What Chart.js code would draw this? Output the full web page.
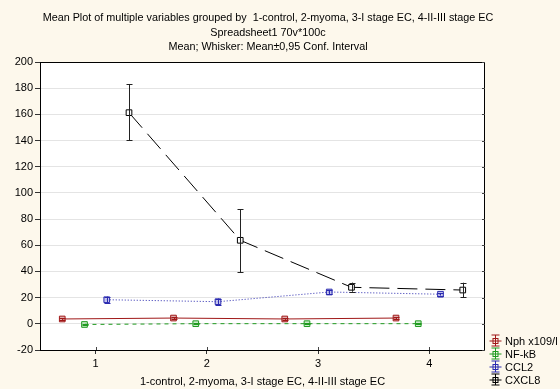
<!DOCTYPE html>
<html>
<head>
<meta charset="utf-8">
<script src="https://cdn.jsdelivr.net/npm/chart.js"></script>
<style>
  html, body { margin: 0; padding: 0; background: #fdf8ec; }
  #wrap { width: 560px; height: 389px; }
</style>
</head>
<body>
<div id="wrap"><canvas id="myChart" width="560" height="389"></canvas></div>
<script>
// Groups on the x axis
const groups = [1, 2, 3, 4];
const seriesNames = ['Nph x109/l', 'NF-kB', 'CCL2', 'CXCL8'];

// Means and 0.95 confidence limits
const nphMean  = [3.7, 4.4, 3.7, 4.4];
const nphLow   = [3.0, 3.7, 3.0, 3.7];
const nphHigh  = [4.4, 5.1, 4.4, 5.1];

const nfkbMean = [-0.5, 0.1, 0.1, 0.1];
const nfkbLow  = [-1.0, -0.4, -0.4, -0.4];
const nfkbHigh = [0.0, 0.6, 0.6, 0.6];

const ccl2Mean = [18.4, 16.9, 24.3, 22.6];
const ccl2Low  = [16.0, 14.5, 22.8, 21.6];
const ccl2High = [20.8, 19.3, 25.8, 23.6];

const cxcl8Mean = [161.3, 63.8, 27.9, 25.8];
const cxcl8Low  = [140.2, 39.4, 24.5, 20.3];
const cxcl8High = [183.2, 87.5, 31.5, 31.4];

const yTicks = [-20, 0, 20, 40, 60, 80, 100, 120, 140, 160, 180, 200];

const titleLines = [
  'Mean Plot of multiple variables grouped by  1-control, 2-myoma, 3-I stage EC, 4-II-III stage EC',
  'Spreadsheet1 70v*100c',
  'Mean; Whisker: Mean\u00b10,95 Conf. Interval'
];
const xTitle = '1-control, 2-myoma, 3-I stage EC, 4-II-III stage EC';

const FONT = '"Liberation Sans", Arial, sans-serif';
const colors = ['#a01818', '#1f9a1f', '#2a2ab0', '#000000'];
const fills = ['rgba(200,120,120,0.6)', 'rgba(150,220,150,0.5)', 'rgba(140,140,220,0.5)', 'rgba(255,255,255,0.9)'];
const dashes = [[], [4, 4], [1, 2], [20, 8]];
const offsets = [-0.3, -0.1, 0.1, 0.3];
const means = [nphMean, nfkbMean, ccl2Mean, cxcl8Mean];
const lows = [nphLow, nfkbLow, ccl2Low, cxcl8Low];
const highs = [nphHigh, nfkbHigh, ccl2High, cxcl8High];

const datasets = seriesNames.map((name, i) => ({
  label: name,
  data: groups.map((g, j) => ({ x: g + offsets[i], y: means[i][j] })),
  borderColor: colors[i],
  backgroundColor: fills[i],
  borderWidth: 1,
  borderDash: dashes[i],
  pointStyle: 'rect',
  pointRadius: 4,
  pointBorderWidth: 1,
  pointBorderColor: colors[i],
  pointBackgroundColor: fills[i],
  tension: 0
}));

const errorBars = {
  id: 'errorBars',
  afterDatasetsDraw(chart) {
    const ctx = chart.ctx;
    const xs = chart.scales.x, ys = chart.scales.y;
    ctx.save();
    means.forEach((m, i) => {
      ctx.strokeStyle = i === 3 ? '#222' : colors[i];
      ctx.lineWidth = 1;
      groups.forEach((g, j) => {
        const x = Math.round(xs.getPixelForValue(g + offsets[i])) + 0.5;
        const y1 = ys.getPixelForValue(lows[i][j]);
        const y2 = ys.getPixelForValue(highs[i][j]);
        ctx.beginPath();
        ctx.moveTo(x, y1); ctx.lineTo(x, y2);
        ctx.moveTo(x - 3, Math.round(y1) + 0.5); ctx.lineTo(x + 3, Math.round(y1) + 0.5);
        ctx.moveTo(x - 3, Math.round(y2) + 0.5); ctx.lineTo(x + 3, Math.round(y2) + 0.5);
        ctx.stroke();
      });
    });
    ctx.restore();
  }
};

const frame = {
  id: 'frame',
  beforeDraw(chart) {
    const ctx = chart.ctx, a = chart.chartArea;
    ctx.save();
    ctx.fillStyle = '#fdf8ec';
    ctx.fillRect(0, 0, chart.width, chart.height);
    ctx.fillStyle = '#ffffff';
    ctx.fillRect(a.left, a.top, a.right - a.left, a.bottom - a.top);
    ctx.restore();
  },
  afterDraw(chart) {
    const ctx = chart.ctx, a = chart.chartArea;
    const xs = chart.scales.x, ys = chart.scales.y;
    ctx.save();
    ctx.strokeStyle = '#000';
    ctx.lineWidth = 1;
    ctx.strokeRect(a.left + 0.5, a.top + 0.5, a.right - a.left - 1, a.bottom - a.top);
    // small inner ticks on the right and bottom edges
    ctx.strokeStyle = '#444';
    ctx.beginPath();
    yTicks.forEach(v => {
      const y = Math.round(ys.getPixelForValue(v)) + 0.5;
      ctx.moveTo(a.right - 3, y); ctx.lineTo(a.right, y);
    });
    groups.forEach(v => {
      const x = Math.round(xs.getPixelForValue(v)) + 0.5;
      ctx.moveTo(x, a.bottom - 3); ctx.lineTo(x, a.bottom);
    });
    ctx.stroke();

    ctx.fillStyle = '#000';
    ctx.font = '10.8px ' + FONT;
    ctx.textAlign = 'center';
    ctx.textBaseline = 'middle';
    const cx = 268;
    titleLines.forEach((t, k) => ctx.fillText(t, cx, 18.5 + k * 14.5));
    ctx.font = '11px ' + FONT;
    ctx.fillText(xTitle, (a.left + a.right) / 2, 382);

    // legend
    ctx.textAlign = 'left';
    seriesNames.forEach((name, i) => {
      const y = 340.5 + i * 13;
      const x = 495.5;
      ctx.strokeStyle = colors[i];
      ctx.setLineDash([]);
      ctx.beginPath();
      ctx.moveTo(x - 4, y - 5.5); ctx.lineTo(x + 4, y - 5.5);
      ctx.moveTo(x - 4, y + 5.5); ctx.lineTo(x + 4, y + 5.5);
      ctx.moveTo(x, y - 5.5); ctx.lineTo(x, y + 5.5);
      ctx.moveTo(x - 6, y + 0.5); ctx.lineTo(x + 6, y + 0.5);
      ctx.stroke();
      ctx.strokeRect(x - 2.5, y - 2, 5, 5);
      ctx.fillStyle = '#000';
      ctx.fillText(name, 505, y + 1);
    });
    ctx.restore();
  }
};

new Chart(document.getElementById('myChart'), {
  type: 'line',
  data: { datasets },
  options: {
    responsive: false,
    animation: false,
    layout: { padding: { left: 0, top: 62, right: 75, bottom: 0 } },
    plugins: { legend: { display: false }, title: { display: false }, tooltip: { enabled: false } },
    scales: {
      x: {
        type: 'linear',
        min: 0.5, max: 4.5,
        afterBuildTicks: s => { s.ticks = groups.map(v => ({ value: v })); },
        afterFit: s => { s.height = 39; },
        grid: { color: 'rgba(0,0,0,0)', tickColor: '#333', tickLength: 4, drawOnChartArea: false },
        border: { display: false },
        ticks: { color: '#000', font: { family: FONT, size: 11 }, padding: 3, maxRotation: 0 }
      },
      y: {
        min: -20, max: 200,
        afterBuildTicks: s => { s.ticks = yTicks.map(v => ({ value: v })); },
        afterFit: s => { s.width = 40; },
        grid: { color: '#e4e4e4', tickColor: '#333', tickLength: 5 },
        border: { display: false },
        ticks: { color: '#000', font: { family: FONT, size: 11 }, padding: 2 }
      }
    }
  },
  plugins: [frame, errorBars]
});
</script>
</body>
</html>
